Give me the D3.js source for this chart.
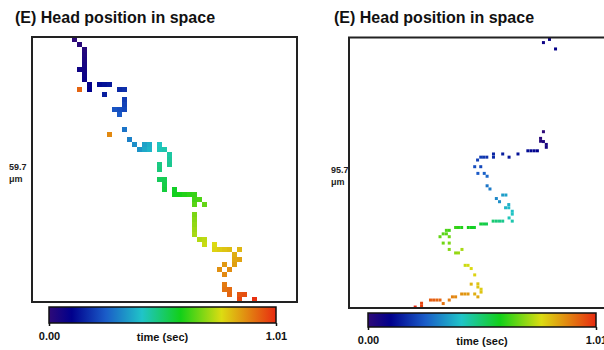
<!DOCTYPE html>
<html>
<head>
<meta charset="utf-8">
<script src="https://cdn.jsdelivr.net/npm/d3@7"></script>
<style>
  body { margin: 0; background: #fff; }
  svg { display: block; font-family: "Liberation Sans", Arial, sans-serif; }
</style>
</head>
<body>
<svg id="chart" width="604" height="350"></svg>
<script>
// ---- data (grid cell units, time in sec) ----
const leftCol = [8,9,10,10,10,10,10,9,10,10,11,11,13,14,15,14,17,18,18,18,18,17,16,17,18,19,20,21,22,22,23,23,25,25,26,27,27,27,25,25,25,26,26,26,28,28,29,30,31,32,32,33,32,34,32,32,32,32,32,33,34,34,36,36,37,38,39,41,40,40,41,40,38,37,39,38,38,38,39,39,41,42,41,44,9,15];
const leftRow = [0,1,2,3,4,5,6,6,7,8,9,10,9,9,9,11,10,10,12,13,14,14,14,15,18,20,21,22,21,22,21,22,21,22,22,23,24,25,25,26,28,28,29,30,30,31,31,31,31,31,32,32,33,33,35,36,37,38,39,40,40,41,41,42,42,42,42,42,43,44,44,45,45,46,46,47,49,50,50,51,51,51,52,52,10,19];
const leftTime = [0.00,0.01,0.02,0.03,0.04,0.05,0.06,0.065,0.07,0.08,0.09,0.10,0.12,0.13,0.14,0.15,0.17,0.18,0.20,0.21,0.22,0.23,0.24,0.25,0.29,0.31,0.33,0.34,0.36,0.37,0.38,0.39,0.42,0.43,0.44,0.45,0.46,0.47,0.48,0.49,0.52,0.53,0.54,0.55,0.57,0.58,0.59,0.60,0.61,0.62,0.63,0.64,0.65,0.66,0.68,0.69,0.70,0.71,0.72,0.73,0.74,0.75,0.77,0.78,0.79,0.80,0.81,0.82,0.83,0.84,0.845,0.85,0.86,0.87,0.875,0.88,0.90,0.91,0.92,0.93,0.95,0.96,0.97,1.00,0.93,0.88];

const rightCol = [61.1,60.2,60.2,61.1,62.0,62.0,61.1,63.0,64.9,59.2,58.2,57.2,56.2,53.1,50.3,48.3,45.4,45.4,43.3,42.3,41.4,40.4,41.4,39.5,40.5,42.5,43.4,43.4,44.3,46.3,47.3,48.3,49.3,50.2,49.2,50.2,51.3,51.3,50.3,51.3,48.3,47.3,46.3,45.3,43.2,42.3,41.4,39.4,38.5,37.5,35.4,34.4,33.5,31.5,30.6,30.6,29.6,28.6,31.5,29.6,31.5,31.5,33.5,34.4,35.5,36.5,37.4,38.4,39.5,38.4,40.5,40.5,41.5,41.5,39.5,40.5,37.4,36.4,35.4,33.5,32.5,31.5,29.6,28.6,27.6,26.6,25.6,22.8,22.8,20.8];
const rightRow = [29.6,31.7,32.6,32.7,33.6,34.5,1.6,0.6,3.6,35.6,35.6,35.6,35.6,36.6,37.6,36.6,36.6,37.6,37.6,37.6,37.6,38.5,40.6,40.6,42.7,42.7,43.6,46.6,47.6,50.6,51.6,49.5,49.5,52.5,53.5,53.5,54.6,55.5,56.7,57.7,57.7,57.7,57.7,57.7,58.6,58.6,58.6,59.7,59.7,59.7,59.7,59.7,59.7,60.6,60.6,61.7,61.7,62.6,62.6,64.6,64.6,66.6,67.7,67.7,66.6,71.6,71.6,72.6,74.6,77.5,77.4,78.4,79.1,80.0,80.6,81.5,80.6,80.6,80.6,81.5,81.5,82.5,83.6,82.5,82.5,82.5,82.5,83.5,84.4,84.7];
const rightTime = [0.00,0.01,0.02,0.03,0.04,0.05,0.07,0.08,0.09,0.10,0.11,0.11,0.12,0.13,0.14,0.15,0.16,0.17,0.18,0.19,0.20,0.21,0.22,0.23,0.25,0.26,0.27,0.29,0.30,0.32,0.33,0.35,0.36,0.38,0.39,0.40,0.41,0.42,0.43,0.44,0.47,0.48,0.49,0.50,0.53,0.54,0.55,0.57,0.58,0.59,0.60,0.61,0.62,0.63,0.64,0.65,0.65,0.66,0.67,0.67,0.68,0.69,0.70,0.71,0.72,0.75,0.76,0.77,0.78,0.82,0.80,0.80,0.79,0.80,0.83,0.84,0.86,0.86,0.87,0.88,0.89,0.90,0.91,0.93,0.93,0.94,0.94,0.97,0.98,1.01];

const timeTicks = [0, 1.01];
const stopPos = [0, 0.10, 0.25, 0.41, 0.58, 0.76, 1];
const stopColor = ["#2e0a78", "#00008c", "#1a5cc8", "#20c4c8", "#12d018", "#dcdc12", "#e82a10"];

const svg = d3.select("#chart");
const color = d3.scaleLinear()
  .domain(stopPos.map(p => p * 1.01))
  .range(stopColor)
  .interpolate(d3.interpolateRgb)
  .clamp(true);

// gradient for colorbars
const grad = svg.append("defs").append("linearGradient")
  .attr("id", "jet").attr("x1", "0%").attr("x2", "100%");
grad.selectAll("stop")
  .data(stopPos)
  .enter().append("stop")
  .attr("offset", d => (d * 100) + "%")
  .attr("stop-color", (d, i) => stopColor[i]);

function panel(o) {
  const g = svg.append("g");
  const x = d3.scaleLinear().domain([0, o.cells]).range([o.left, o.left + o.size]);
  const y = d3.scaleLinear().domain([0, o.cells]).range([o.top, o.top + o.size]);

  g.append("text")
    .attr("x", o.titleX).attr("y", 23)
    .attr("font-size", 16).attr("font-weight", "bold").attr("fill", "#111")
    .text("(E) Head position in space");

  // points
  const pts = o.col.map((c, i) => ({ c: c, r: o.row[i], t: o.time[i] }));
  const cell = x(1) - x(0);
  const s = o.dot;
  g.selectAll("rect.pt")
    .data(pts)
    .enter().append("rect")
    .attr("class", "pt")
    .attr("x", d => o.grid ? x(d.c) : x(d.c) - s / 2)
    .attr("y", d => o.grid ? y(d.r) : y(d.r) - s / 2)
    .attr("width", o.grid ? cell : s)
    .attr("height", o.grid ? cell : s)
    .attr("fill", d => color(d.t));

  // frame
  g.append("rect")
    .attr("x", o.left).attr("y", o.top)
    .attr("width", o.size).attr("height", o.size)
    .attr("fill", "none").attr("stroke", "#222").attr("stroke-width", 2);

  // scale label
  const lab = g.append("text")
    .attr("font-size", 9).attr("font-weight", "bold").attr("fill", "#222");
  lab.append("tspan").attr("x", o.labX).attr("y", o.labY).text(o.extent);
  lab.append("tspan").attr("x", o.labX).attr("y", o.labY + 12).text("μm");

  // colorbar
  const cb = d3.scaleLinear().domain([0, 1.01]).range([o.cbX, o.cbX + o.cbW]);
  g.append("rect")
    .attr("x", o.cbX).attr("y", o.cbY)
    .attr("width", o.cbW).attr("height", o.cbH)
    .attr("fill", "url(#jet)").attr("stroke", "#111").attr("stroke-width", 1.5);
  const ax = g.append("g")
    .attr("transform", "translate(0," + (o.cbY + o.cbH) + ")")
    .call(d3.axisBottom(cb).tickValues(timeTicks).tickFormat(d3.format(".2f")).tickSize(3).tickPadding(6));
  ax.select(".domain").remove();
  ax.selectAll("line").attr("stroke", "#111").attr("stroke-width", 1.5);
  ax.selectAll("text").attr("font-size", 11).attr("font-weight", "bold").attr("fill", "#111")
    .attr("font-family", "Liberation Sans, Arial, sans-serif");
  g.append("text")
    .attr("x", o.cbX + o.cbW / 2).attr("y", o.cbY + o.cbH + 18)
    .attr("text-anchor", "middle")
    .attr("font-size", 11).attr("font-weight", "bold").attr("fill", "#111")
    .text("time (sec)");
}

panel({ col: leftCol, row: leftRow, time: leftTime, cells: 53, grid: true, dot: 5,
  left: 32, top: 37, size: 265, titleX: 15, extent: "59.7", labX: 9, labY: 170,
  cbX: 49, cbY: 307, cbW: 227, cbH: 16 });

panel({ col: rightCol, row: rightRow, time: rightTime, cells: 85, grid: false, dot: 3,
  left: 349, top: 37.5, size: 270.5, titleX: 334, extent: "95.7", labX: 331, labY: 173,
  cbX: 368, cbY: 313, cbW: 228, cbH: 14 });
</script>
</body>
</html>
